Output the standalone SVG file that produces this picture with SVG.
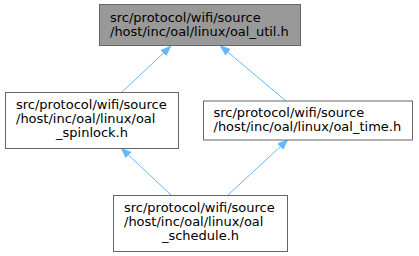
<svg xmlns="http://www.w3.org/2000/svg" width="419" height="256" viewBox="0 0 419 256">
<style>
  .node rect { stroke: #666666; stroke-width: 1; fill: #ffffff; }
  .node.root rect { fill: #999999; }
  text { font-family: "DejaVu Sans", "Liberation Sans", sans-serif; font-size: 13px; fill: #000000; }
  .s { text-anchor: start; }
  .m { text-anchor: middle; }
  .edge { stroke: #63b8ff; stroke-width: 1; fill: none; }
</style>
<defs>
  <marker id="arrow" markerUnits="userSpaceOnUse" markerWidth="11" markerHeight="9" refX="10.5" refY="4" orient="auto">
    <path d="M0,0 L10.5,4 L0,8 z" fill="#63b8ff" stroke="#63b8ff" stroke-width="0.5"/>
  </marker>
</defs>
<rect width="419" height="256" fill="#ffffff"/>
<g id="connectors">
  <path class="edge" d="M122,92 L171,46" marker-end="url(#arrow)"/>
  <path class="edge" d="M286,101 L220,45.5" marker-end="url(#arrow)"/>
  <path class="edge" d="M171,195 L121,148" marker-end="url(#arrow)"/>
  <path class="edge" d="M228,195 L288,139.5" marker-end="url(#arrow)"/>
</g>
<g id="node_oal_util" class="node root">
  <rect x="99.5" y="4.5" width="201" height="41"/>
  <text class="s" x="110" y="21.5">src/protocol/wifi/source</text>
  <text class="s" x="110" y="35.5">/host/inc/oal/linux/oal_util.h</text>
</g>
<g id="node_oal_spinlock" class="node">
  <rect x="5.5" y="92.5" width="173" height="56"/>
  <text class="s" x="16" y="108.5">src/protocol/wifi/source</text>
  <text class="s" x="16" y="122.5">/host/inc/oal/linux/oal</text>
  <text class="m" x="92" y="136.5">_spinlock.h</text>
</g>
<g id="node_oal_time" class="node">
  <rect x="203.5" y="101" width="209" height="39"/>
  <text class="s" x="213.5" y="116.5">src/protocol/wifi/source</text>
  <text class="s" x="213.5" y="130.5">/host/inc/oal/linux/oal_time.h</text>
</g>
<g id="node_oal_schedule" class="node">
  <rect x="113.5" y="195.5" width="174" height="56"/>
  <text class="s" x="124" y="211.5">src/protocol/wifi/source</text>
  <text class="s" x="124" y="225.5">/host/inc/oal/linux/oal</text>
  <text class="m" x="200.5" y="239.5">_schedule.h</text>
</g>
</svg>
